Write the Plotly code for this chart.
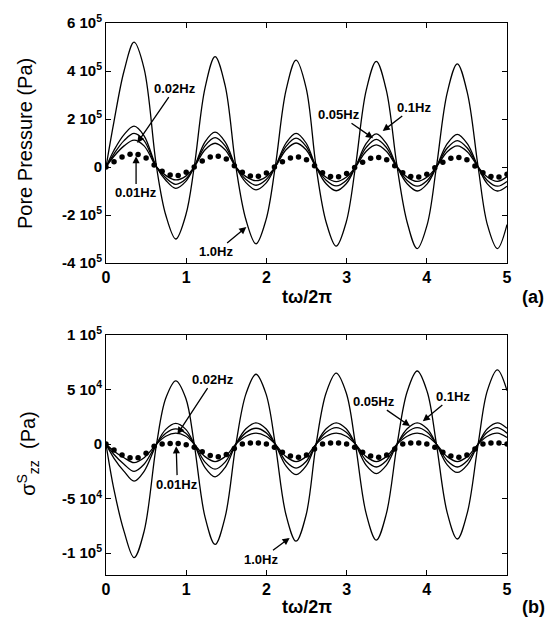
import plotly.graph_objects as go

# ---------------- data ----------------
# time samples (t*omega/2pi) for the solid curves (both panels)
T = [0, 0.1, 0.225, 0.35, 0.475, 0.63, 0.745, 0.87, 0.995, 1.1,
     1.235, 1.36, 1.485, 1.62, 1.745, 1.87, 1.995, 2.11, 2.245, 2.37,
     2.495, 2.62, 2.745, 2.87, 2.995, 3.11, 3.245, 3.37, 3.495, 3.63,
     3.755, 3.88, 4.005, 4.12, 4.255, 4.38, 4.505, 4.64, 4.755, 4.88, 5.0]

# time samples of the dotted (0.01 Hz) series
T_DOTS = [0.0, 0.1, 0.2, 0.3, 0.4, 0.5, 0.6, 0.7, 0.8, 0.9,
          1.0, 1.1, 1.2, 1.3, 1.4, 1.5, 1.6, 1.7, 1.8, 1.9,
          2.0, 2.1, 2.2, 2.3, 2.4, 2.5, 2.6, 2.7, 2.8, 2.9,
          3.0, 3.1, 3.2, 3.3, 3.4, 3.5, 3.6, 3.7, 3.8, 3.9,
          4.0, 4.1, 4.2, 4.3, 4.4, 4.5, 4.6, 4.7, 4.8, 4.9, 5.0]

# (a) pore pressure, in units of 1e5 Pa
pp_1hz = [0, 1.9, 4.0, 5.2, 4.1, 0.0, -2.0, -3.0, -2.0, 0.0,
          3.3, 4.6, 3.4, 0.0, -2.2, -3.2, -2.2, 0.0, 3.2, 4.45,
          3.3, 0.0, -2.3, -3.3, -2.3, 0.0, 3.2, 4.4, 3.2, 0.0,
          -2.3, -3.4, -2.4, 0.0, 3.1, 4.3, 3.1, 0.0, -2.4, -3.4, -2.4]
pp_01hz = [0, 0.7, 1.35, 1.7, 1.3, 0.0, -0.55, -0.89, -0.6, 0.0,
           1.05, 1.45, 1.05, 0.0, -0.65, -0.95, -0.67, 0.0, 1.0, 1.4,
           1.0, 0.0, -0.7, -0.99, -0.7, 0.0, 0.98, 1.38, 0.98, 0.0,
           -0.7, -1.0, -0.7, 0.0, 0.97, 1.36, 0.97, 0.0, -0.7, -1.0, -0.8]
pp_005hz = [0, 0.55, 1.1, 1.4, 1.1, 0.0, -0.45, -0.72, -0.5, 0.0,
            0.88, 1.22, 0.88, 0.0, -0.52, -0.76, -0.53, 0.0, 0.86, 1.2,
            0.86, 0.0, -0.55, -0.79, -0.56, 0.0, 0.82, 1.15, 0.82, 0.0,
            -0.56, -0.8, -0.56, 0.0, 0.79, 1.1, 0.79, 0.0, -0.56, -0.8, -0.6]
pp_002hz = [0, 0.45, 0.88, 1.12, 0.88, 0.0, -0.35, -0.54, -0.38, 0.0,
            0.72, 0.99, 0.72, 0.0, -0.4, -0.57, -0.41, 0.0, 0.72, 1.0,
            0.72, 0.0, -0.43, -0.61, -0.43, 0.0, 0.66, 0.92, 0.66, 0.0,
            -0.42, -0.6, -0.42, 0.0, 0.64, 0.88, 0.64, 0.0, -0.42, -0.6, -0.4]
pp_001hz = [0, 0.22, 0.42, 0.53, 0.52, 0.38, 0.08, -0.18, -0.33, -0.35,
            -0.22, 0.0, 0.25, 0.42, 0.45, 0.33, 0.05, -0.22, -0.37, -0.38,
            -0.25, 0.0, 0.22, 0.38, 0.42, 0.3, 0.05, -0.24, -0.4, -0.41,
            -0.27, -0.02, 0.2, 0.37, 0.4, 0.3, 0.05, -0.24, -0.4, -0.42,
            -0.3, -0.03, 0.2, 0.36, 0.4, 0.3, 0.04, -0.24, -0.4, -0.42, -0.3]

# (b) sigma^S_zz, in units of 1e4 Pa
sz_1hz = [0, -4.2, -8.0, -10.4, -8.0, 0.0, 4.2, 5.8, 4.2, 0.0,
          -6.7, -9.2, -6.7, 0.0, 4.6, 6.4, 4.6, 0.0, -6.5, -8.9,
          -6.5, 0.0, 4.7, 6.5, 4.7, 0.0, -6.4, -8.8, -6.4, 0.0,
          4.8, 6.7, 4.8, 0.0, -6.3, -8.7, -6.3, 0.0, 4.9, 6.8, 4.9]
sz_01hz = [0, -1.3, -2.5, -3.4, -2.5, 0.0, 1.35, 1.9, 1.35, 0.0,
           -2.15, -3.0, -2.15, 0.0, 1.4, 1.95, 1.4, 0.0, -2.0, -2.8,
           -2.0, 0.0, 1.4, 1.95, 1.4, 0.0, -1.95, -2.7, -1.95, 0.0,
           1.4, 1.95, 1.4, 0.0, -1.9, -2.6, -1.9, 0.0, 1.4, 1.95, 1.45]
sz_005hz = [0, -0.95, -1.85, -2.5, -1.85, 0.0, 1.0, 1.4, 1.0, 0.0,
            -1.65, -2.3, -1.65, 0.0, 1.05, 1.45, 1.05, 0.0, -1.6, -2.2,
            -1.6, 0.0, 1.08, 1.5, 1.08, 0.0, -1.52, -2.1, -1.52, 0.0,
            1.08, 1.5, 1.08, 0.0, -1.52, -2.1, -1.52, 0.0, 1.08, 1.5, 1.0]
sz_002hz = [0, -0.65, -1.25, -1.7, -1.25, 0.0, 0.72, 1.0, 0.72, 0.0,
            -1.15, -1.6, -1.15, 0.0, 0.72, 1.0, 0.72, 0.0, -1.15, -1.6,
            -1.15, 0.0, 0.72, 1.0, 0.72, 0.0, -1.15, -1.6, -1.15, 0.0,
            0.72, 1.0, 0.72, 0.0, -1.15, -1.6, -1.15, 0.0, 0.72, 1.0, 0.6]
sz_001hz = [0, -0.55, -1.0, -1.25, -1.25, -0.85, -0.2, 0.0, 0.05, 0.05,
            -0.05, -0.3, -0.7, -1.05, -1.15, -0.95, -0.4, 0.0, 0.1, 0.1,
            0.0, -0.3, -0.75, -1.1, -1.2, -1.0, -0.45, 0.0, 0.1, 0.1,
            0.0, -0.3, -0.75, -1.1, -1.2, -1.0, -0.45, 0.0, 0.1, 0.1,
            0.0, -0.3, -0.75, -1.1, -1.2, -1.0, -0.45, 0.0, 0.1, 0.1, 0.0]

X_TICKS = [0, 1, 2, 3, 4, 5]
YA_TICKS = [-4e5, -2e5, 0, 2e5, 4e5, 6e5]
YA_LABELS = ["-4 10<sup>5</sup>", "-2 10<sup>5</sup>", "0", "2 10<sup>5</sup>",
             "4 10<sup>5</sup>", "6 10<sup>5</sup>"]
YB_TICKS = [-1e5, -5e4, 0, 5e4, 1e5]
YB_LABELS = ["-1 10<sup>5</sup>", "-5 10<sup>4</sup>", "0", "5 10<sup>4</sup>",
             "1 10<sup>5</sup>"]

# label text, arrow tail (text centre) and arrow tip, in data units
LABELS_A = [("0.02Hz", 0.86, 3.29e5, 0.39, 1.0e5),
            ("0.01Hz", 0.375, -1.08e5, 0.375, 0.45e5),
            ("1.0Hz", 1.375, -3.54e5, 1.75, -2.5e5),
            ("0.05Hz", 2.9, 2.2e5, 3.33, 1.2e5),
            ("0.1Hz", 3.84, 2.5e5, 3.45, 1.5e5)]
LABELS_B = [("0.02Hz", 1.34, 5.96e4, 0.89, 0.9e4),
            ("0.01Hz", 0.89, -3.67e4, 0.875, -0.2e4),
            ("1.0Hz", 1.93, -10.55e4, 2.29, -8.6e4),
            ("0.05Hz", 3.34, 3.94e4, 3.79, 1.65e4),
            ("0.1Hz", 4.33, 4.4e4, 3.95, 2.1e4)]

FONT = "Liberation Sans, Arial, Helvetica, sans-serif"
fig = go.Figure()

def add_lines(series, scale, xa, ya):
    for ys in series:
        fig.add_trace(go.Scatter(x=T, y=[v * scale for v in ys], mode="lines",
                                 line=dict(color="black", width=1.3, shape="spline"),
                                 xaxis=xa, yaxis=ya, showlegend=False, hoverinfo="skip"))

add_lines([pp_1hz, pp_01hz, pp_005hz, pp_002hz], 1e5, "x", "y")
fig.add_trace(go.Scatter(x=T_DOTS, y=[v * 1e5 for v in pp_001hz], mode="markers",
                         marker=dict(color="black", size=5.5), xaxis="x", yaxis="y",
                         showlegend=False))
add_lines([sz_1hz, sz_01hz, sz_005hz, sz_002hz], 1e4, "x2", "y2")
fig.add_trace(go.Scatter(x=T_DOTS, y=[v * 1e4 for v in sz_001hz], mode="markers",
                         marker=dict(color="black", size=5.5), xaxis="x2", yaxis="y2",
                         showlegend=False))

axis_common = dict(showgrid=False, zeroline=False, showline=True, linecolor="black",
                   linewidth=1, mirror="ticks", ticks="inside", ticklen=5,
                   tickcolor="black", tickwidth=1, automargin=False)
xt = dict(tickvals=X_TICKS, ticktext=[f"<b>{v}</b>" for v in X_TICKS],
          tickfont=dict(family=FONT, size=16, color="black"), range=[0, 5])

fig.update_layout(
    width=550, height=620,
    margin=dict(l=98, r=51, t=15, b=53),
    paper_bgcolor="white", plot_bgcolor="white",
    xaxis=dict(**axis_common, **xt, anchor="y", domain=[0, 1]),
    yaxis=dict(**axis_common, domain=[0.5652, 1], range=[-4e5, 6e5], anchor="x",
               tickvals=YA_TICKS, ticktext=[f"<b>{s}</b>" for s in YA_LABELS],
               tickfont=dict(family=FONT, size=15, color="black")),
    xaxis2=dict(**axis_common, **xt, anchor="y2", domain=[0, 1]),
    yaxis2=dict(**axis_common, domain=[0, 0.4348], range=[-1.2e5, 1e5], anchor="x2",
                tickvals=YB_TICKS, ticktext=[f"<b>{s}</b>" for s in YB_LABELS],
                tickfont=dict(family=FONT, size=15, color="black")),
)

ann = []
for (txt, tx, ty, hx, hy), (xr, yr) in ([(l, ("x", "y")) for l in LABELS_A] +
                                          [(l, ("x2", "y2")) for l in LABELS_B]):
    ann.append(dict(text=f"<b>{txt}</b>", x=hx, y=hy, ax=tx, ay=ty, xref=xr, yref=yr,
                    axref=xr, ayref=yr, showarrow=True, arrowhead=2, arrowsize=1.1,
                    arrowwidth=1.3, arrowcolor="black", standoff=0,
                    font=dict(family=FONT, size=13, color="black")))

def paper_text(txt, x, y, size, bold=True, angle=0):
    t = f"<b>{txt}</b>" if bold else txt
    ann.append(dict(text=t, x=x, y=y, xref="paper", yref="paper", showarrow=False,
                    xanchor="center", yanchor="middle", textangle=angle,
                    font=dict(family=FONT, size=size, color="black")))

paper_text("Pore Pressure (Pa)", -0.202, 0.7826, 20, bold=False, angle=-90)
paper_text("σ<sup>S</sup><sub>zz</sub>  (Pa)", -0.195, 0.221, 20, bold=False, angle=-90)
paper_text("tω/2π", 0.5, 0.5036, 18)
paper_text("tω/2π", 0.5, -0.058, 18)
paper_text("(a)", 1.065, 0.5036, 18)
paper_text("(b)", 1.065, -0.058, 18)

fig.update_layout(annotations=ann)
fig.write_html("out.html")
